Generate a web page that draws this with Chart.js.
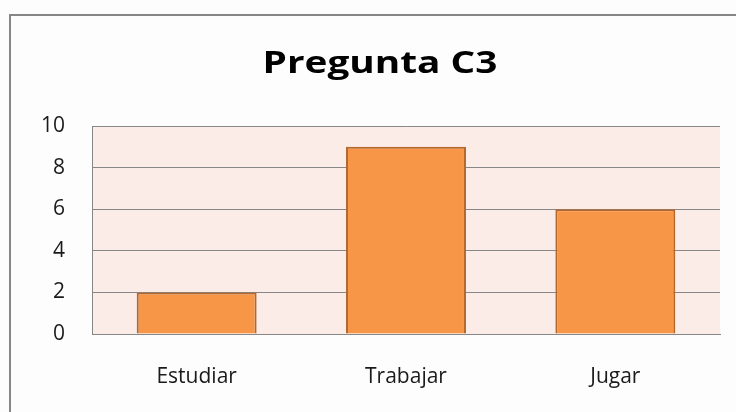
<!DOCTYPE html>
<html>
<head>
<meta charset="utf-8">
<script src="https://cdn.jsdelivr.net/npm/chart.js@4/dist/chart.umd.min.js"></script>
<style>
    html, body { margin: 0; padding: 0; background: #fdfdfd; overflow: hidden; }
    #frame {
        position: absolute; left: 9px; top: 14px; width: 740px; height: 410px;
        border-top: 2px solid #868686; border-left: 2px solid #868686;
    }
    #wrap { position: absolute; left: 0; top: 0; width: 736px; height: 412px; }
</style>
</head>
<body>
<div id="frame"></div>
<div id="wrap"><canvas id="chartC3"></canvas></div>
<script>
const categories = ['Estudiar', 'Trabajar', 'Jugar'];
const values = [2, 9, 6];
const yTicks = [0, 2, 4, 6, 8, 10];
const chartTitle = 'Pregunta C3';

// pink plot background behind grid
const plotBg = {
    id: 'plotBg',
    beforeDraw(chart) {
        const a = chart.chartArea;
        const ctx = chart.ctx;
        ctx.save();
        ctx.fillStyle = '#fbece8';
        ctx.fillRect(a.left, a.top, a.right - a.left, a.bottom - a.top);
        ctx.restore();
    }
};

// title drawn a bit wider than the font, like the original
const wideTitle = {
    id: 'wideTitle',
    afterDraw(chart) {
        const ctx = chart.ctx;
        ctx.save();
        ctx.font = 'bold 31px "Open Sans"';
        ctx.fillStyle = '#000';
        ctx.textAlign = 'center';
        ctx.textBaseline = 'alphabetic';
        ctx.translate(380, 73);
        ctx.scale(1.25, 1);
        ctx.fillText(chartTitle, 0, 0);
        ctx.restore();
    }
};

const ctx = document.getElementById('chartC3').getContext('2d');
new Chart(ctx, {
    type: 'bar',
    data: {
        labels: categories,
        datasets: [{
            data: values,
            backgroundColor: '#f79646',
            borderColor: '#b3672c',
            borderWidth: 2,
            borderSkipped: 'bottom',
            barPercentage: 0.573,
            categoryPercentage: 1
        }]
    },
    options: {
        responsive: true,
        maintainAspectRatio: false,
        animation: false,
        layout: { padding: { left: 0, right: 16, top: 126, bottom: 0 } },
        plugins: {
            legend: { display: false },
            tooltip: { enabled: false },
            title: { display: false }
        },
        scales: {
            y: {
                min: 0,
                max: 10,
                afterFit: axis => { axis.width = 92; },
                afterBuildTicks: axis => { axis.ticks = yTicks.map(v => ({ value: v })); },
                ticks: {
                    color: '#1a1a1a',
                    padding: 27,
                    font: { family: 'Open Sans', size: 21 }
                },
                grid: { color: '#878787', lineWidth: 1, drawTicks: false },
                border: { display: true, color: '#878787', width: 1 }
            },
            x: {
                afterFit: axis => { axis.height = 78; },
                ticks: {
                    color: '#1a1a1a',
                    padding: 30,
                    font: { family: 'Open Sans', size: 21 }
                },
                grid: { display: false, drawTicks: false },
                border: { display: true, color: '#878787', width: 1 }
            }
        }
    },
    plugins: [plotBg, wideTitle]
});
</script>
</body>
</html>
